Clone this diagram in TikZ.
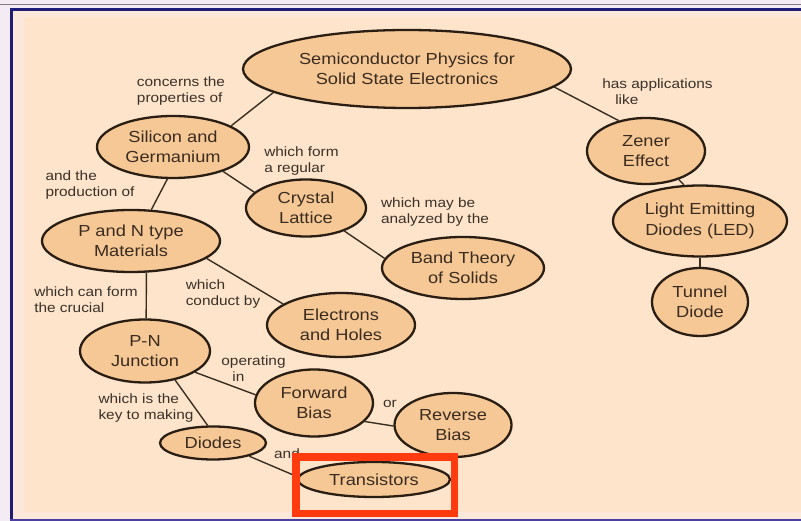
\documentclass[tikz,border=0pt]{standalone}
\usepackage{fontspec}
\setmainfont{Liberation Sans}[FakeStretch=1.14]
\usetikzlibrary{shapes.geometric}

\definecolor{pagebg}{HTML}{F3ECF4}
\definecolor{rulegray}{HTML}{8A7A85}
\definecolor{edgepink}{HTML}{FCE8DA}
\definecolor{peach}{HTML}{FDE4CB}
\definecolor{conceptfill}{HTML}{F6C896}
\definecolor{ink}{HTML}{2A1E14}
\definecolor{linkc}{HTML}{3A2E22}
\definecolor{textc}{HTML}{3A2C20}
\definecolor{labelc}{HTML}{3B3128}
\definecolor{framenavy}{HTML}{1E1E78}
\definecolor{framelow}{HTML}{4B3FA0}
\definecolor{hilite}{HTML}{FF3B0F}

\tikzset{
  concept/.style={ellipse, draw=ink, line width=2.3pt, fill=conceptfill,
    inner sep=0pt, align=center, text=textc,
    font=\fontsize{16}{20.5}\selectfont},
  linkword/.style={inner sep=0pt, align=left, text=labelc,
    font=\fontsize{13.5}{16}\selectfont},
  link/.style={draw=linkc, line width=1.4pt},
}

\begin{document}
\begin{tikzpicture}[x=1pt,y=-1pt]
\useasboundingbox (0,0) rectangle (801,521);

% page and frame
\fill[pagebg] (0,0) rectangle (801,521);
\draw[rulegray, line width=1.5pt] (0,4.5) -- (801,4.5);
\fill[edgepink] (11.5,9.5) rectangle (801,519.5);
\fill[peach] (24,17) rectangle (801,512);
\draw[framenavy, line width=3pt] (801,9.5) -- (11.5,9.5) -- (11.5,519.5);
\draw[framelow, line width=2pt] (10,519.8) -- (801,519.8);

% concepts
\node[concept, minimum width=328pt, minimum height=78pt] (sem) at (407,69)
  {Semiconductor Physics for\\Solid State Electronics};
\node[concept, minimum width=152pt, minimum height=62pt] (sil) at (173,147)
  {Silicon and\\Germanium};
\node[concept, minimum width=120pt, minimum height=57pt] (cry) at (306,208)
  {Crystal\\Lattice};
\node[concept, minimum width=178pt, minimum height=62pt] (pn) at (131,241)
  {P and N type\\Materials};
\node[concept, minimum width=162pt, minimum height=62pt] (band) at (463,268)
  {Band Theory\\of Solids};
\node[concept, minimum width=118pt, minimum height=66pt] (zen) at (646,151)
  {Zener\\Effect};
\node[concept, minimum width=174pt, minimum height=71pt] (led) at (700,221)
  {Light Emitting\\Diodes (LED)};
\node[concept, minimum width=96pt, minimum height=68pt] (tun) at (700,302)
  {Tunnel\\Diode};
\node[concept, minimum width=148pt, minimum height=64pt] (el) at (341,325)
  {Electrons\\and Holes};
\node[concept, minimum width=130pt, minimum height=63pt] (pnj) at (145,351)
  {P-N\\Junction};
\node[concept, minimum width=118pt, minimum height=67pt] (fw) at (314,403)
  {Forward\\Bias};
\node[concept, minimum width=117pt, minimum height=64pt] (rev) at (453,425)
  {Reverse\\Bias};
\node[concept, minimum width=106pt, minimum height=33pt] (dio) at (213,443)
  {Diodes};
\node[concept, minimum width=152pt, minimum height=35pt] (tr) at (374,479.5)
  {Transistors};

% connectors
\draw[link] (sem.190) -- (sil.20);
\draw[link] (sem.353) -- (zen.132);
\draw[link] (sil.260) -- (pn.57);
\draw[link] (sil.334) -- (cry.163);
\draw[link] (cry.329) -- (band.173);
\draw[link] (zen.319) -- (led.114);
\draw[link] (led.south) -- (tun.north);
\draw[link] (pn.296) -- (pnj.88);
\draw[link] (pn.347) -- (el.160);
\draw[link] (pnj.337) -- (fw.172);
\draw[link] (pnj.316) -- (dio.107);
\draw[link] (fw.340) -- (rev.181);
\draw[link] (dio.340) -- (tr.178);

% linking phrases
\node[linkword] (l1) at (181,91) {concerns the\\properties of};
\node[linkword] (l2) at (301.5,161) {which form\\a regular};
\node[linkword] (l3) at (90,185) {and the\\production of};
\node[linkword] (l4) at (435,212) {which may be\\analyzed by the};
\node[linkword] (l5) at (657.5,92) {has applications\\\hspace*{13pt}like};
\node[linkword] (l6) at (86,300) {which can form\\the crucial};
\node[linkword] (l7) at (223,294) {which\\conduct by};
\node[linkword] (l8) at (253.5,369) {operating\\\hspace*{11pt}in};
\node[linkword] (l9) at (146,408) {which is the\\key to making};
\node[linkword] (l10) at (390,404) {or};
\node[linkword] (l11) at (287,454) {and};

% highlight box
\draw[hilite, line width=7.5pt] (295.75,456.75) rectangle (454.25,513.25);
\end{tikzpicture}
\end{document}
